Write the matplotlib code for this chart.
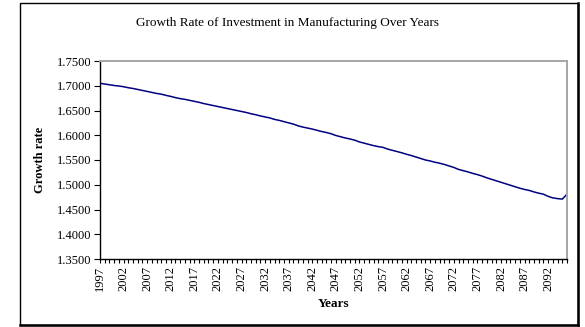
import matplotlib.pyplot as plt
from matplotlib.patches import Rectangle
from matplotlib.ticker import FormatStrFormatter

# yearly growth rate, 1997 - 2096
years = list(range(1997, 2097))
growth = [
    1.7050, 1.7035, 1.7020, 1.7005, 1.6995, 1.6980, 1.6960, 1.6945, 1.6925, 1.6905,
    1.6885, 1.6865, 1.6845, 1.6830, 1.6805, 1.6785, 1.6760, 1.6740, 1.6725, 1.6705,
    1.6685, 1.6665, 1.6640, 1.6620, 1.6600, 1.6580, 1.6560, 1.6540, 1.6520, 1.6500,
    1.6480, 1.6460, 1.6435, 1.6415, 1.6390, 1.6370, 1.6350, 1.6320, 1.6300, 1.6275,
    1.6250, 1.6225, 1.6190, 1.6165, 1.6145, 1.6125, 1.6100, 1.6075, 1.6055, 1.6030,
    1.5995, 1.5970, 1.5945, 1.5925, 1.5900, 1.5865, 1.5840, 1.5815, 1.5790, 1.5770,
    1.5755, 1.5720, 1.5695, 1.5670, 1.5645, 1.5615, 1.5590, 1.5560, 1.5530, 1.5500,
    1.5480, 1.5455, 1.5435, 1.5410, 1.5380, 1.5350, 1.5310, 1.5285, 1.5260, 1.5230,
    1.5205, 1.5175, 1.5140, 1.5110, 1.5080, 1.5050, 1.5020, 1.4990, 1.4960, 1.4930,
    1.4905, 1.4885, 1.4855, 1.4830, 1.4810, 1.4765, 1.4735, 1.4720, 1.4710, 1.4810,
]
label_years = years[::5]
y_ticks = [1.35, 1.40, 1.45, 1.50, 1.55, 1.60, 1.65, 1.70, 1.75]

plt.rcParams['font.family'] = ['Liberation Serif', 'DejaVu Serif']

fig = plt.figure(figsize=(5.85, 3.27), dpi=100)
ax = fig.add_axes([100 / 585, 68 / 327, 467 / 585, 198 / 327])

ax.plot(years, growth, color='#000080', linewidth=1.1)

ax.set_xlim(years[0], years[-1])
ax.set_ylim(y_ticks[0], y_ticks[-1])
ax.set_yticks(y_ticks)
ax.yaxis.set_major_formatter(FormatStrFormatter('%.4f'))
ax.set_xticks(label_years)
ax.set_xticklabels([str(y) for y in label_years], rotation=90)
ax.set_xticks(years, minor=True)
ax.tick_params(axis='x', which='both', direction='out', length=3, width=0.8,
               labelsize=9, pad=2)
ax.tick_params(axis='y', direction='out', length=4, width=0.8, labelsize=9, pad=2)

for side in ('left', 'bottom'):
    ax.spines[side].set_color('black')
    ax.spines[side].set_linewidth(1.0)
for side in ('top', 'right'):
    ax.spines[side].set_color('#a6a6a6')
    ax.spines[side].set_linewidth(1.4)

ax.set_xlabel('Years', fontsize=9.5, fontweight='bold', labelpad=5)
ax.set_ylabel('Growth rate', fontsize=9, fontweight='bold', labelpad=8)
fig.text(0.492, 0.93, 'Growth Rate of Investment in Manufacturing Over Years',
         ha='center', va='center', fontsize=9.5)

# chart border with a heavier edge on the right and bottom
fig.patches.append(Rectangle((19.5 / 585, 2 / 327), 558 / 585, 322.5 / 327,
                             transform=fig.transFigure, fill=False,
                             edgecolor='black', linewidth=1.0))
fig.lines.append(plt.Line2D([578 / 585, 578 / 585], [2 / 327, 324.5 / 327],
                            transform=fig.transFigure, color='black', linewidth=1.8))
fig.lines.append(plt.Line2D([19.5 / 585, 578 / 585], [2 / 327, 2 / 327],
                            transform=fig.transFigure, color='black', linewidth=1.8))

fig.savefig('out.png', dpi=100)
